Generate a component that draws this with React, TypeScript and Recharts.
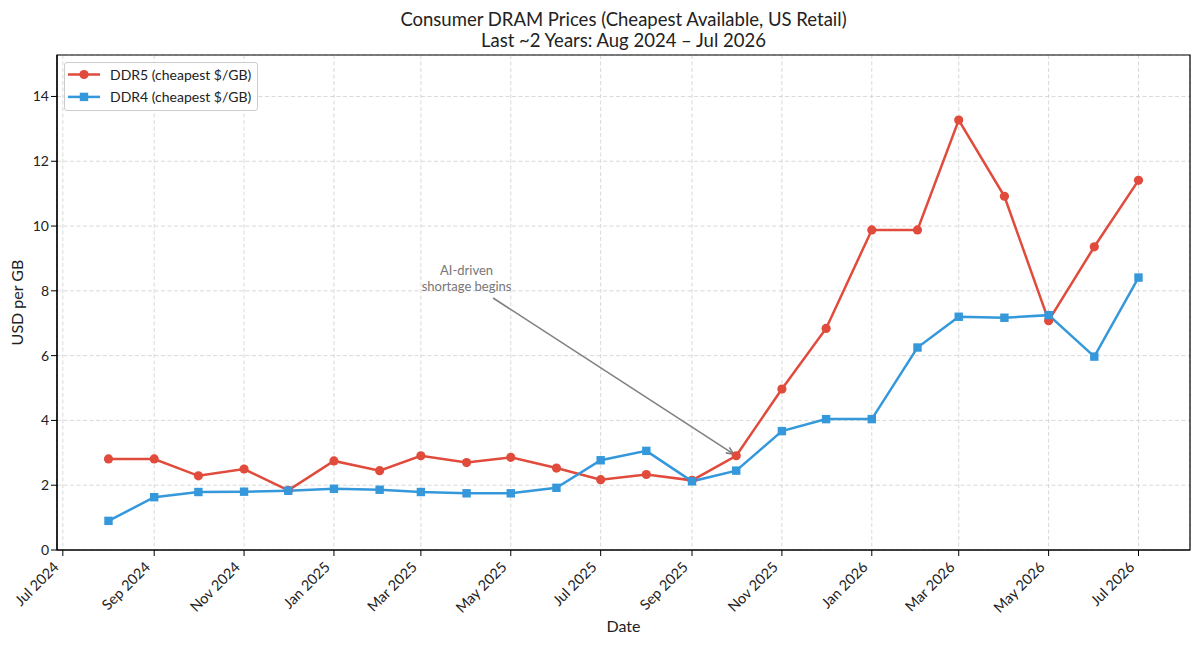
import React from 'react';
import {
  LineChart,
  Line,
  XAxis,
  YAxis,
  CartesianGrid,
  Legend,
  ReferenceLine,
  ReferenceDot,
  ReferenceArea,
} from 'recharts';

const FONT = 'Lato, "DejaVu Sans", sans-serif';

// ---------- data ----------
const months = [
  '2024-08', '2024-09', '2024-10', '2024-11', '2024-12',
  '2025-01', '2025-02', '2025-03', '2025-04', '2025-05', '2025-06',
  '2025-07', '2025-08', '2025-09', '2025-10', '2025-11', '2025-12',
  '2026-01', '2026-02', '2026-03', '2026-04', '2026-05', '2026-06', '2026-07',
];

const ddr5 = [
  2.81, 2.81, 2.29, 2.5, 1.84,
  2.75, 2.45, 2.91, 2.7, 2.86, 2.53,
  2.17, 2.33, 2.15, 2.91, 4.97, 6.84,
  9.88, 9.88, 13.27, 10.92, 7.08, 9.36, 11.41,
];

const ddr4 = [
  0.9, 1.63, 1.79, 1.8, 1.83,
  1.89, 1.86, 1.79, 1.75, 1.75, 1.92,
  2.77, 3.06, 2.12, 2.45, 3.67, 4.04,
  4.04, 6.25, 7.2, 7.17, 7.25, 5.97, 8.41,
];

const tickMonths = [
  '2024-07', '2024-09', '2024-11', '2025-01', '2025-03', '2025-05', '2025-07',
  '2025-09', '2025-11', '2026-01', '2026-03', '2026-05', '2026-07',
];

const yTicks = [0, 2, 4, 6, 8, 10, 12, 14];
const Y_MAX = 15.28;

const MONTH_NAMES = ['Jan', 'Feb', 'Mar', 'Apr', 'May', 'Jun', 'Jul', 'Aug', 'Sep', 'Oct', 'Nov', 'Dec'];

const seriesNames = { ddr5: 'DDR5 (cheapest $/GB)', ddr4: 'DDR4 (cheapest $/GB)' };
const COLORS = { ddr5: '#e04b3c', ddr4: '#3498db' };

const titleLines = [
  'Consumer DRAM Prices (Cheapest Available, US Retail)',
  'Last ~2 Years: Aug 2024 \u2013 Jul 2026',
];

// annotation (data coordinates)
const annotationLines = ['AI-driven', 'shortage begins'];
const annotationText = { date: '2025-04-01', value: 8.0 };
const annotationArrowFrom = { date: '2025-04-19', value: 7.78 };
const annotationTargetMonth = '2025-10';

// ---------- helpers ----------
const toTs = (s: string) => {
  const [y, m, d] = s.split('-').map(Number);
  return Date.UTC(y, m - 1, d || 1);
};
const fmtTick = (t: number) => {
  const d = new Date(t);
  return `${MONTH_NAMES[d.getUTCMonth()]} ${d.getUTCFullYear()}`;
};

const data = months.map((m, i) => ({ t: toTs(m), ddr5: ddr5[i], ddr4: ddr4[i] }));
const first = data[0].t;
const last = data[data.length - 1].t;
const pad = (last - first) * 0.05;
const X_DOMAIN: [number, number] = [first - pad, last + pad];
const xTicks = tickMonths.map((m) => toTs(m));

const targetIdx = months.indexOf(annotationTargetMonth);
const targetPoint = { x: toTs(annotationTargetMonth), y: ddr5[targetIdx] };

// ---------- render pieces ----------
const XTick = (props: any) => {
  const { x, y, payload } = props;
  const tx = x - 3;
  const ty = y + 10;
  return (
    <text
      x={tx}
      y={ty}
      transform={`rotate(-45 ${tx} ${ty})`}
      textAnchor="end"
      fontFamily={FONT}
      fontSize={14.5}
      fill="#222"
    >
      {fmtTick(payload.value)}
    </text>
  );
};

const CircleDot = (props: any) => {
  const { cx, cy, index } = props;
  if (cx == null || cy == null) return <g key={`c-${index}`} />;
  return <circle key={`c-${index}`} cx={cx} cy={cy} r={4.6} fill={COLORS.ddr5} />;
};

const SquareDot = (props: any) => {
  const { cx, cy, index } = props;
  if (cx == null || cy == null) return <g key={`s-${index}`} />;
  return <rect key={`s-${index}`} x={cx - 4.2} y={cy - 4.2} width={8.4} height={8.4} fill={COLORS.ddr4} />;
};

const ArrowShape = (props: any) => {
  const { x1, y1, x2, y2 } = props;
  if ([x1, y1, x2, y2].some((v) => v == null || isNaN(v))) return <g />;
  const dx = x2 - x1;
  const dy = y2 - y1;
  const len = Math.sqrt(dx * dx + dy * dy);
  const ux = dx / len;
  const uy = dy / len;
  const ex = x2 - ux * 3;
  const ey = y2 - uy * 3;
  const head = 8;
  const ang = (24 * Math.PI) / 180;
  const rot = (vx: number, vy: number, a: number) => [vx * Math.cos(a) - vy * Math.sin(a), vx * Math.sin(a) + vy * Math.cos(a)];
  const [ax, ay] = rot(-ux, -uy, ang);
  const [bx, by] = rot(-ux, -uy, -ang);
  return (
    <g>
      <line x1={x1} y1={y1} x2={ex} y2={ey} stroke="#808080" strokeWidth={1.6} />
      <polyline
        points={`${ex + ax * head},${ey + ay * head} ${ex},${ey} ${ex + bx * head},${ey + by * head}`}
        fill="none"
        stroke="#808080"
        strokeWidth={1.6}
      />
    </g>
  );
};

const AnnotationText = (props: any) => {
  const { cx, cy } = props;
  if (cx == null || cy == null) return <g />;
  return (
    <g>
      {annotationLines.map((line, i) => (
        <text
          key={i}
          x={cx}
          y={cy - (annotationLines.length - 1 - i) * 15.5}
          textAnchor="middle"
          fontFamily={FONT}
          fontSize={13}
          fill="#777"
        >
          {line}
        </text>
      ))}
    </g>
  );
};

const LegendBox = () => (
  <div
    style={{
      width: 194,
      height: 49,
      boxSizing: 'border-box',
      border: '1px solid #cccccc',
      borderRadius: 3,
      background: 'rgba(255,255,255,0.85)',
    }}
  >
    <svg width={192} height={47} style={{ display: 'block' }}>
      {(['ddr5', 'ddr4'] as const).map((k, i) => {
        const cy = 11.5 + i * 22.4;
        return (
          <g key={k}>
            <line x1={3} y1={cy} x2={35} y2={cy} stroke={COLORS[k]} strokeWidth={2.5} />
            {k === 'ddr5' ? (
              <circle cx={19} cy={cy} r={4.6} fill={COLORS[k]} />
            ) : (
              <rect x={14.8} y={cy - 4.2} width={8.4} height={8.4} fill={COLORS[k]} />
            )}
            <text x={45} y={cy + 5} fontFamily={FONT} fontSize={14} fill="#222">
              {seriesNames[k]}
            </text>
          </g>
        );
      })}
    </svg>
  </div>
);

export default function App() {
  return (
    <div style={{ position: 'absolute', left: 0, top: 0, width: 1200, height: 646, background: '#fff' }}>
      <LineChart
        width={1200}
        height={646}
        data={data}
        margin={{ top: 55, right: 10, bottom: 0, left: 0 }}
      >
        <CartesianGrid stroke="#cfcfcf" strokeWidth={0.8} strokeDasharray="4 2.5" />
        <XAxis
          dataKey="t"
          type="number"
          scale="time"
          domain={X_DOMAIN}
          ticks={xTicks}
          allowDataOverflow
          height={96}
          tickSize={6}
          tickLine={{ stroke: '#000', strokeWidth: 1 }}
          axisLine={{ stroke: '#000', strokeWidth: 1.2 }}
          tick={<XTick />}
          interval={0}
        />
        <YAxis
          type="number"
          domain={[0, Y_MAX]}
          ticks={yTicks}
          allowDataOverflow
          width={57}
          tickSize={6}
          tickMargin={2}
          tickLine={{ stroke: '#000', strokeWidth: 1 }}
          axisLine={{ stroke: '#000', strokeWidth: 1.2 }}
          tick={{ fontFamily: FONT, fontSize: 14, fill: '#222' }}
          interval={0}
        />
        <ReferenceArea
          x1={X_DOMAIN[0]}
          x2={X_DOMAIN[1]}
          y1={0}
          y2={Y_MAX}
          fill="none"
          fillOpacity={0}
          stroke="#000"
          strokeWidth={1.2}
          ifOverflow="visible"
        />
        <Line
          type="linear"
          dataKey="ddr5"
          name={seriesNames.ddr5}
          stroke={COLORS.ddr5}
          strokeWidth={2.5}
          dot={<CircleDot />}
          activeDot={false}
          isAnimationActive={false}
        />
        <Line
          type="linear"
          dataKey="ddr4"
          name={seriesNames.ddr4}
          stroke={COLORS.ddr4}
          strokeWidth={2.5}
          dot={<SquareDot />}
          activeDot={false}
          isAnimationActive={false}
        />
        <ReferenceLine
          segment={[
            { x: toTs(annotationArrowFrom.date), y: annotationArrowFrom.value },
            { x: targetPoint.x, y: targetPoint.y },
          ]}
          ifOverflow="visible"
          shape={<ArrowShape />}
        />
        <ReferenceDot
          x={toTs(annotationText.date)}
          y={annotationText.value}
          r={0}
          ifOverflow="visible"
          shape={<AnnotationText />}
        />
        <Legend
          layout="horizontal"
          align="center"
          verticalAlign="middle"
          wrapperStyle={{ position: 'absolute', left: 64, top: 62, width: 194, height: 49 }}
          content={() => <LegendBox />}
        />
        <text x={623.5} y={25.5} textAnchor="middle" fontFamily={FONT} fontSize={18.5} fill="#222">
          {titleLines[0]}
        </text>
        <text x={623.5} y={47} textAnchor="middle" fontFamily={FONT} fontSize={18.5} fill="#222">
          {titleLines[1]}
        </text>
        <text
          x={22.5}
          y={302.5}
          transform="rotate(-90 22.5 302.5)"
          textAnchor="middle"
          fontFamily={FONT}
          fontSize={16}
          fill="#222"
        >
          USD per GB
        </text>
        <text x={623.5} y={632} textAnchor="middle" fontFamily={FONT} fontSize={16} fill="#222">
          Date
        </text>
      </LineChart>
    </div>
  );
}
